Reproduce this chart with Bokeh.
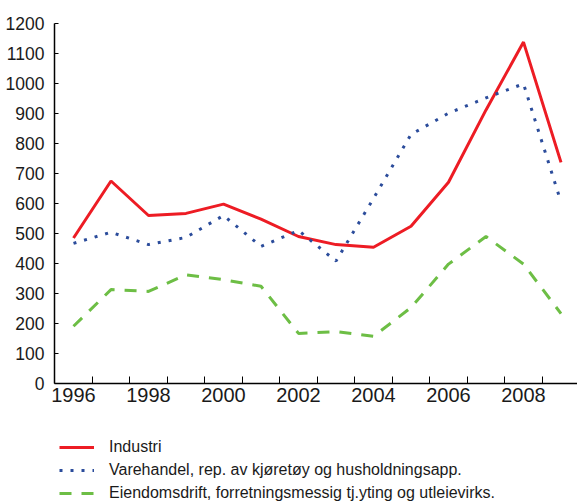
from bokeh.plotting import figure
from bokeh.models import Range1d, FixedTicker, Legend, LegendItem
from bokeh.layouts import column
from bokeh.embed import file_html
from bokeh.resources import INLINE

years = list(range(1996, 2010))
industri = [485, 675, 560, 567, 598, 548, 490, 463, 454, 524, 671, 912, 1138, 737]
varehandel = [467, 504, 463, 487, 560, 457, 510, 408, 617, 830, 901, 952, 999, 605]
eiendom = [191, 313, 307, 362, 346, 324, 167, 173, 157, 253, 398, 490, 398, 233]

names = ["Industri",
         "Varehandel, rep. av kjøretøy og husholdningsapp.",
         "Eiendomsdrift, forretningsmessig tj.yting og utleievirks."]
colors = ["#ed1c24", "#2b4c9b", "#6dbe45"]
dashes = ["solid", "3 8", "12 10"]

y_ticks = list(range(0, 1300, 100))
x_label_ticks = [1996, 1998, 2000, 2002, 2004, 2006, 2008]
x_boundaries = [y + 0.5 for y in range(1996, 2009)]

FONT = "Liberation Sans"

p = figure(width=577, height=415, output_backend="svg", toolbar_location=None,
           x_range=Range1d(1995.4933, 2009.44), y_range=Range1d(0, 1200),
           min_border_left=54, min_border_right=0, min_border_top=23,
           min_border_bottom=32)
p.outline_line_color = None
p.xgrid.visible = False
p.ygrid.visible = False
p.background_fill_color = "white"
p.border_fill_color = "white"

for vals, c, d in zip([industri, varehandel, eiendom], colors, dashes):
    p.line(years, vals, line_color=c, line_width=3, line_dash=d)

xa = p.xaxis[0]
xa.ticker = FixedTicker(ticks=x_label_ticks, minor_ticks=x_boundaries)
xa.major_tick_in = 0
xa.major_tick_out = 0
xa.minor_tick_in = 7
xa.minor_tick_out = 0
xa.minor_tick_line_color = "black"
xa.axis_line_color = "black"
xa.axis_line_width = 1.5
xa.major_label_text_font = FONT
xa.major_label_text_font_size = "20px"
xa.major_label_text_color = "#1a1a1a"
xa.major_label_standoff = 4

ya = p.yaxis[0]
ya.ticker = FixedTicker(ticks=y_ticks)
ya.major_tick_in = 4
ya.major_tick_out = 0
ya.minor_tick_in = 0
ya.minor_tick_out = 0
ya.axis_line_color = "black"
ya.axis_line_width = 1.5
ya.major_label_text_font = FONT
ya.major_label_text_font_size = "17.5px"
ya.major_label_text_color = "#1a1a1a"
ya.major_label_standoff = 10

# legend panel (legend entries reuse the same series data, drawn off-range)
lg = figure(width=577, height=86, output_backend="svg", toolbar_location=None,
            x_range=Range1d(3000, 3001), y_range=Range1d(0, 1),
            x_axis_location=None, y_axis_location=None,
            min_border_left=0, min_border_right=0, min_border_top=0,
            min_border_bottom=0)
lg.grid.visible = False
lg.outline_line_color = None
items = []
for name, vals, c, d in zip(names, [industri, varehandel, eiendom], colors, dashes):
    r = lg.line(years, vals, line_color=c, line_width=3, line_dash=d)
    items.append(LegendItem(label=name, renderers=[r]))

legend = Legend(items=items, location=(5, -2), orientation="vertical",
                padding=0, margin=0, spacing=3,
                glyph_width=35, glyph_height=20, label_height=20,
                label_standoff=15,
                label_text_font=FONT, label_text_font_size="16px",
                label_text_color="#1a1a1a",
                background_fill_alpha=0, border_line_alpha=0)
lg.add_layout(legend, "center")

layout = column(p, lg, spacing=0)
open("out.html", "w").write(file_html(layout, INLINE))
